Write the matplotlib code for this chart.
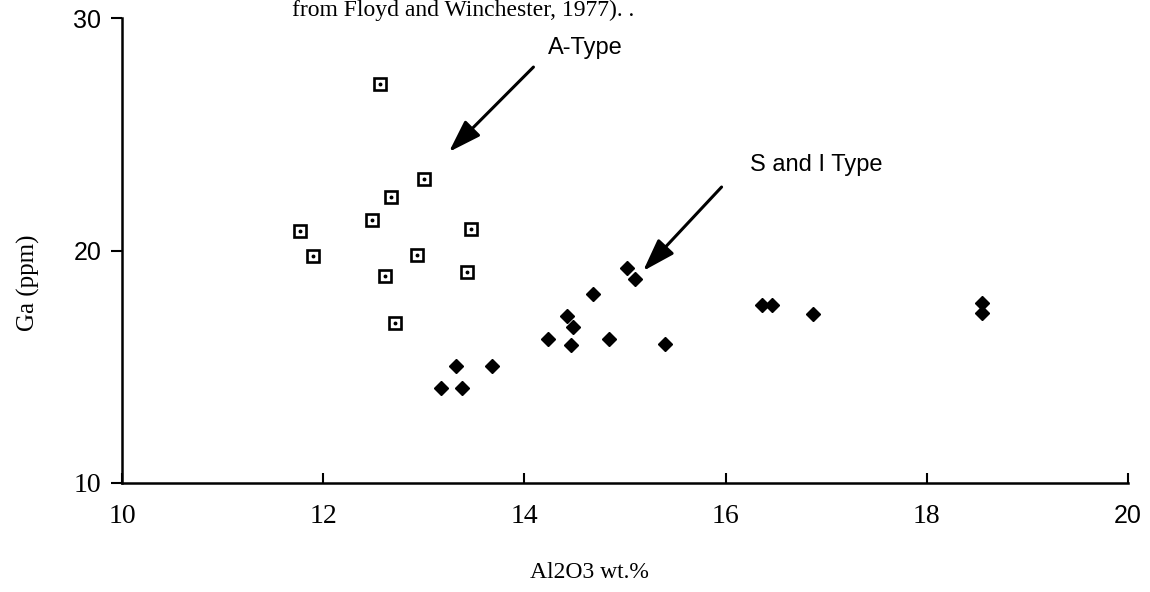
import matplotlib
matplotlib.use('Agg')
import matplotlib.pyplot as plt

# A-type granites (open squares)
a_al2o3 = [12.56, 13.00, 12.67, 12.49, 11.77, 11.90, 12.93, 13.47, 12.61, 13.43, 12.71]
a_ga = [27.16, 23.08, 22.30, 21.31, 20.84, 19.76, 19.81, 20.92, 18.90, 19.08, 16.88]

# S and I type granites (filled diamonds)
si_al2o3 = [15.02, 15.10, 14.68, 14.42, 14.48, 14.23, 14.46, 14.84, 15.40,
            13.32, 13.68, 13.17, 13.38, 16.36, 16.46, 16.87, 18.55, 18.55]
si_ga = [19.25, 18.77, 18.13, 17.18, 16.71, 16.19, 15.94, 16.19, 15.98,
         15.03, 15.03, 14.09, 14.09, 17.66, 17.66, 17.27, 17.74, 17.31]

x_ticks = [10, 12, 14, 16, 18, 20]
y_ticks = [10, 20, 30]

# arrow tip / tail and label positions (data coords)
a_tip = (13.25, 24.24)
a_tail = (14.09, 27.89)
a_label = (14.61, 28.71)
si_tip = (15.18, 19.12)
si_tail = (15.96, 22.73)
si_label = (16.90, 23.68)

serif = 'Liberation Serif'
sans = 'Liberation Sans'

fig = plt.figure(figsize=(11.5, 5.92), dpi=100)
ax = fig.add_axes([122 / 1150, 1 - 483 / 592, 1006 / 1150, 465 / 592])

ax.plot(a_al2o3, a_ga, linestyle='none', marker='s', markersize=8.5,
        markerfacecolor='white', markeredgecolor='black', markeredgewidth=1.9)
ax.plot(a_al2o3, a_ga, linestyle='none', marker='o', markersize=1.8, color='black')
ax.plot(si_al2o3, si_ga, linestyle='none', marker='D', markersize=7.5, color='black')

# arrows + labels
arrow = dict(arrowstyle='-|>,head_length=1.0,head_width=0.33', color='black',
             lw=2.2, shrinkA=0, shrinkB=0, mutation_scale=20)
ax.annotate('', xy=a_tip, xytext=a_tail, arrowprops=arrow)
ax.annotate('', xy=si_tip, xytext=si_tail, arrowprops=arrow)
ax.text(a_label[0], a_label[1], 'A-Type', fontsize=17, family=sans,
        ha='center', va='center')
ax.text(si_label[0], si_label[1], 'S and I Type', fontsize=17, family=sans,
        ha='center', va='center')

ax.set_xlim(10, 20)
ax.set_ylim(10, 30)
ax.spines['top'].set_visible(False)
ax.spines['right'].set_visible(False)
ax.spines['left'].set_linewidth(1.8)
ax.spines['bottom'].set_linewidth(1.8)

ax.set_xticks(x_ticks)
ax.set_yticks(y_ticks)
ax.tick_params(axis='x', direction='in', length=7, width=1.5, pad=15, labelsize=20)
ax.tick_params(axis='y', direction='out', length=8, width=1.5, pad=7, labelsize=19)

# mixed fonts like the scanned original
for lbl in ax.get_xticklabels():
    if lbl.get_text() == '20':
        lbl.set_family(sans)
        lbl.set_fontsize(18)
    else:
        lbl.set_family(serif)
for lbl in ax.get_yticklabels():
    if lbl.get_text() == '10':
        lbl.set_family(serif)
        lbl.set_fontsize(20)
    else:
        lbl.set_family(sans)
        lbl.set_fontsize(18)

ax.set_xlabel('Al2O3 wt.%', fontsize=17, family=serif)
ax.xaxis.set_label_coords(0.465, -0.17)
ax.set_ylabel('Ga (ppm)', fontsize=18, family=serif)
ax.yaxis.set_label_coords(-0.082, 0.43)

# caption fragment at the top of the scan
fig.text(292 / 1150, 1.0, 'from Floyd and Winchester, 1977). .',
         fontsize=17, family=serif, ha='left', va='top')

fig.savefig('out.png', dpi=100, facecolor='white')
